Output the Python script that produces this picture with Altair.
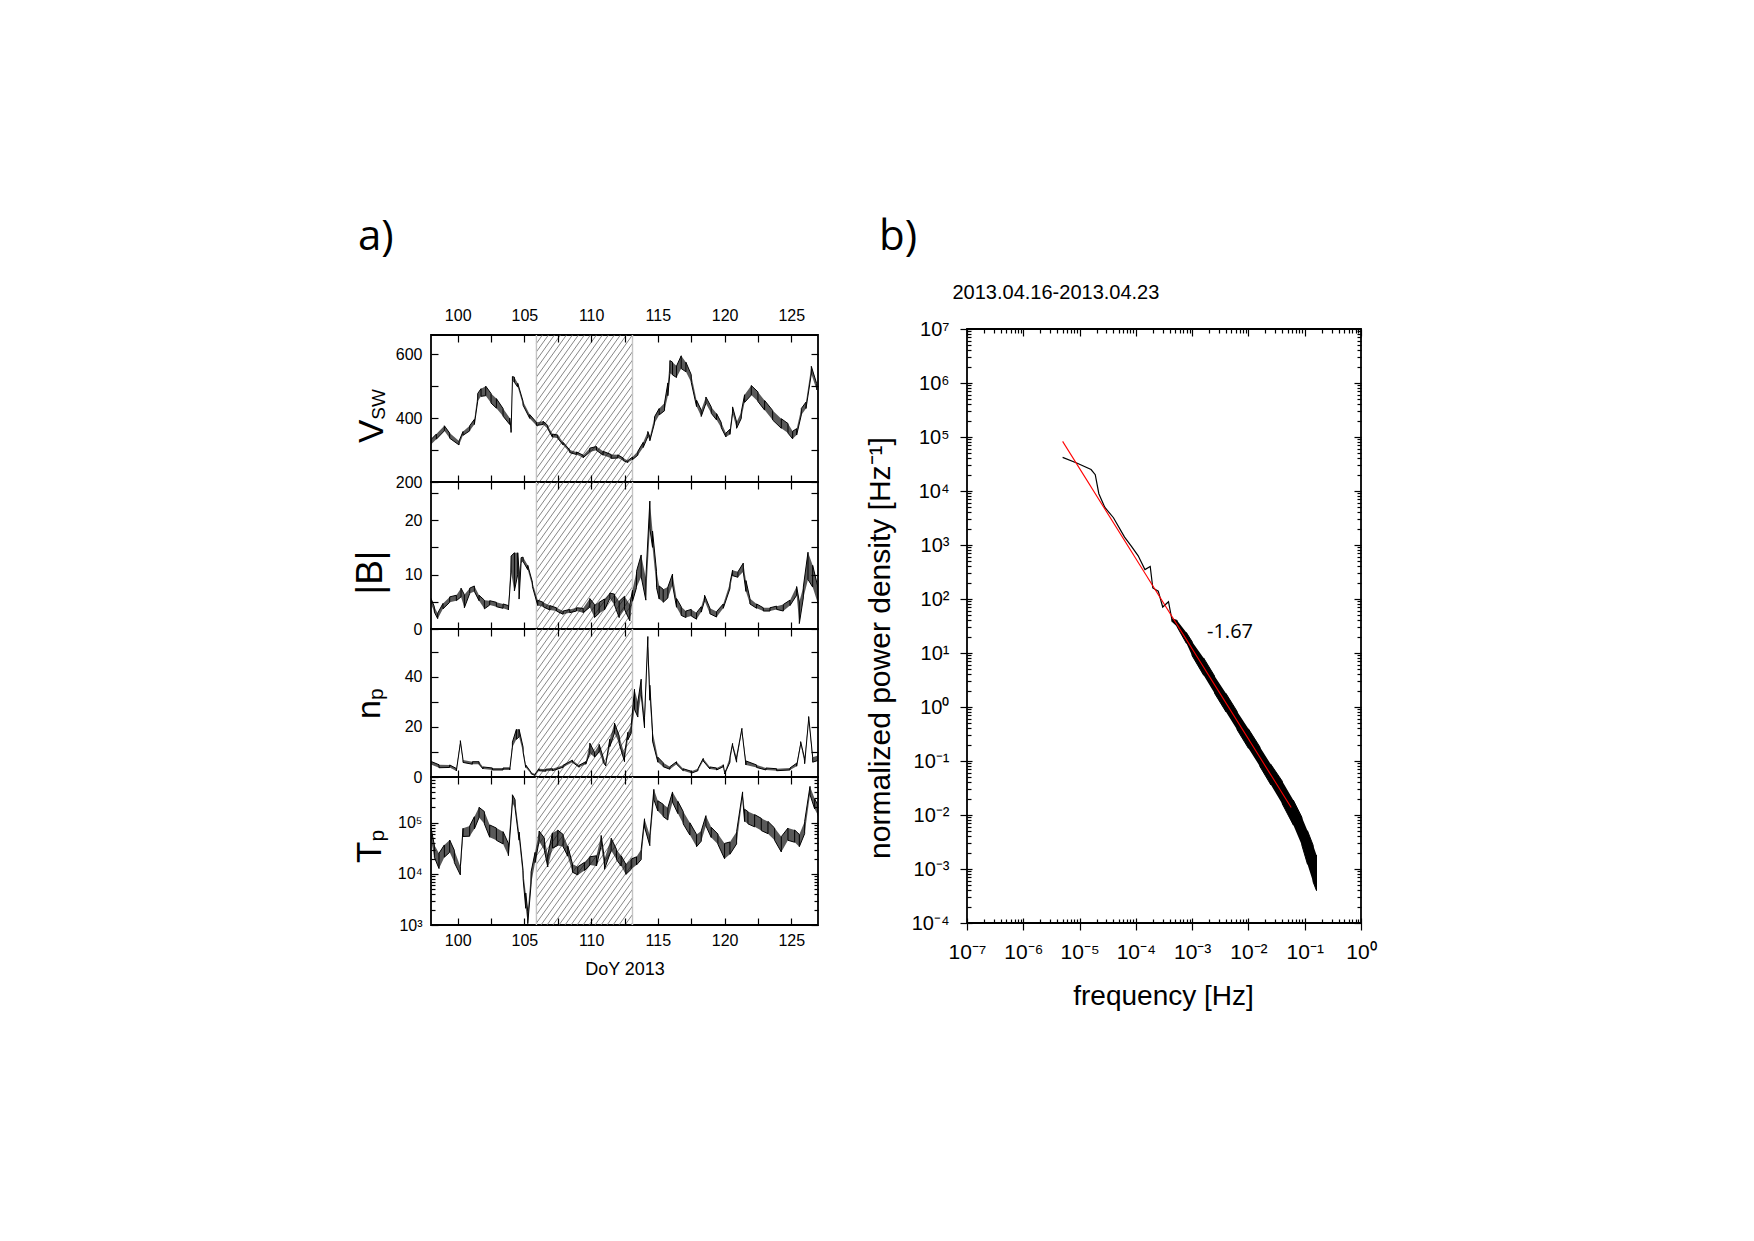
import math
import altair as alt
import pandas as pd

# ---------------- panel a data (DoY 2013) ----------------
DAY_RANGE = [98, 127]
SHADE_DAYS = [105.9, 113.1]
X_TICKS = [100, 102.5, 105, 107.5, 110, 112.5, 115, 117.5, 120, 122.5, 125]

V_DAY = [98.0, 98.4, 99.0, 99.4, 100.1, 100.4, 100.9, 101.25, 101.5, 101.75, 102.1, 102.5, 102.9, 103.4, 103.9, 104.0, 104.1, 104.25, 104.5, 104.9, 105.4, 105.9, 106.4, 106.75, 107.1, 107.5, 107.9, 108.4, 108.9, 109.4, 109.9, 110.4, 110.9, 111.5, 112.0, 112.4, 112.75, 113.1, 113.5, 113.9, 114.25, 114.4, 114.75, 115.1, 115.5, 115.75, 115.9, 116.1, 116.4, 116.75, 117.1, 117.5, 117.9, 118.25, 118.6, 119.0, 119.4, 119.75, 120.1, 120.4, 120.6, 120.9, 121.25, 121.5, 122.0, 122.5, 123.0, 123.6, 124.25, 124.75, 125.1, 125.4, 125.75, 126.1, 126.5, 126.9]
V_VAL = [325, 342, 368, 345, 322, 352, 368, 388, 465, 480, 485, 462, 446, 418, 390, 360, 522, 520, 503, 446, 405, 382, 385, 372, 345, 342, 320, 296, 290, 280, 300, 305, 290, 280, 280, 271, 264, 274, 290, 316, 350, 335, 394, 420, 435, 490, 560, 555, 545, 575, 560, 524, 446, 415, 456, 425, 404, 378, 347, 357, 425, 378, 409, 461, 487, 467, 440, 409, 383, 368, 347, 357, 420, 440, 550, 498]
V_AMP = [8, 8, 8, 8, 6, 6, 8, 8, 12, 12, 15, 15, 15, 12, 10, 5, 8, 8, 6, 6, 6, 5, 5, 5, 5, 5, 4, 4, 4, 4, 6, 6, 6, 6, 5, 4, 3, 4, 6, 8, 8, 6, 10, 10, 12, 20, 20, 20, 18, 20, 15, 12, 10, 10, 10, 10, 10, 8, 6, 8, 10, 10, 10, 12, 15, 15, 15, 15, 15, 15, 12, 10, 10, 10, 12, 10]

B_DAY = [98.0, 98.25, 98.5, 98.9, 99.4, 99.9, 100.25, 100.5, 100.9, 101.25, 101.6, 102.0, 102.4, 102.9, 103.4, 103.8, 104.0, 104.25, 104.5, 104.6, 104.75, 104.9, 105.25, 105.6, 106.0, 106.4, 106.9, 107.4, 107.9, 108.4, 108.9, 109.4, 109.9, 110.25, 110.6, 111.0, 111.4, 111.75, 112.1, 112.5, 112.9, 113.1, 113.4, 113.75, 114.1, 114.4, 114.6, 114.9, 115.1, 115.4, 115.75, 116.1, 116.4, 116.75, 117.1, 117.5, 117.9, 118.25, 118.5, 118.9, 119.4, 119.9, 120.4, 120.6, 121.0, 121.4, 121.6, 121.9, 122.4, 122.9, 123.4, 123.9, 124.4, 124.9, 125.4, 125.6, 125.9, 126.25, 126.6, 127.0]
B_VAL = [5.1, 3.6, 2.4, 4.2, 5.4, 5.7, 6.7, 5.1, 7.0, 7.4, 5.7, 4.5, 4.8, 4.5, 4.2, 3.9, 11.9, 10.5, 12.0, 8.0, 12.6, 12.8, 11.3, 8.2, 4.8, 4.5, 3.9, 3.6, 3.0, 3.3, 3.6, 3.4, 4.8, 3.3, 3.9, 4.5, 6.1, 5.4, 3.6, 4.8, 3.0, 6.1, 9.1, 11.6, 7.3, 21.0, 16.5, 9.1, 6.7, 6.1, 6.7, 9.1, 4.8, 3.3, 2.7, 3.0, 2.4, 3.6, 5.7, 3.3, 2.7, 4.2, 7.9, 10.3, 10.0, 11.3, 7.9, 5.1, 4.2, 3.6, 3.6, 3.9, 3.9, 4.8, 7.0, 3.0, 6.7, 11.6, 9.7, 6.1]
B_AMP = [0.5, 0.5, 0.5, 0.5, 0.5, 0.5, 0.8, 1.2, 0.5, 0.5, 0.5, 0.8, 0.4, 0.4, 0.4, 0.4, 1.5, 3.5, 2.0, 2.5, 0.5, 0.4, 0.4, 0.4, 0.5, 0.4, 0.4, 0.3, 0.3, 0.3, 0.3, 0.4, 0.8, 1.2, 1.0, 1.0, 0.5, 1.0, 1.5, 1.2, 1.5, 1.0, 1.5, 2.0, 2.0, 2.5, 1.5, 1.5, 1.2, 1.2, 1.0, 1.0, 0.8, 0.8, 0.6, 0.6, 0.6, 0.5, 0.5, 0.5, 0.5, 0.4, 0.5, 0.5, 0.5, 0.8, 1.0, 0.5, 0.4, 0.3, 0.3, 0.3, 0.6, 0.5, 0.8, 2.0, 1.0, 2.5, 2.0, 1.5]

N_DAY = [98.0, 98.6, 99.4, 99.9, 100.2, 100.4, 101.1, 101.6, 101.9, 102.6, 103.4, 103.9, 104.1, 104.4, 104.6, 104.9, 105.1, 105.5, 105.8, 106.1, 106.6, 107.1, 107.9, 108.6, 109.1, 109.6, 109.9, 110.25, 110.6, 110.9, 111.1, 111.4, 111.75, 112.1, 112.5, 112.75, 113.0, 113.25, 113.5, 113.75, 114.0, 114.25, 114.4, 114.6, 115.0, 115.4, 115.9, 116.4, 116.9, 117.5, 118.0, 118.4, 118.9, 119.4, 119.9, 120.0, 120.4, 120.6, 120.9, 121.3, 121.6, 122.4, 123.1, 123.9, 124.9, 125.4, 125.7, 126.0, 126.3, 126.6, 127.0]
N_VAL = [5.6, 4.3, 4.3, 2.9, 14.0, 6.3, 5.6, 5.6, 3.6, 3.2, 3.2, 3.2, 12.9, 17.0, 17.5, 10.9, 4.3, 1.6, 0.9, 2.9, 2.7, 2.9, 4.3, 6.3, 4.3, 5.6, 11.5, 8.9, 11.5, 6.9, 4.9, 13.6, 19.5, 14.9, 7.6, 16.3, 18.9, 31.0, 26.9, 36.0, 21.6, 54.0, 33.6, 16.3, 6.9, 4.9, 3.6, 5.6, 2.9, 1.9, 2.9, 6.9, 3.6, 3.2, 4.5, 1.5, 6.9, 12.9, 6.9, 18.9, 5.6, 4.3, 3.2, 2.9, 3.2, 4.9, 13.6, 6.3, 23.6, 6.9, 7.6]
N_AMP = [0.6, 0.6, 0.5, 0.5, 0.5, 0.5, 0.5, 0.5, 0.4, 0.4, 0.4, 0.4, 1.0, 2.0, 1.5, 1.0, 0.5, 0.3, 0.3, 0.4, 0.4, 0.4, 0.4, 0.4, 0.4, 0.5, 2.0, 1.0, 1.5, 1.0, 0.5, 1.5, 2.0, 1.5, 1.5, 1.5, 1.5, 4.0, 3.0, 3.0, 2.0, 2.0, 3.0, 2.0, 1.0, 0.8, 0.5, 0.5, 0.4, 0.4, 0.4, 0.5, 0.4, 0.4, 0.4, 0.3, 1.0, 0.5, 1.0, 0.5, 0.8, 0.5, 0.4, 0.4, 0.4, 0.6, 0.5, 1.0, 0.5, 1.0, 1.0]

T_DAY = [98.0, 98.25, 98.6, 99.0, 99.4, 99.75, 100.2, 100.4, 100.9, 101.25, 101.6, 102.0, 102.4, 102.9, 103.4, 103.8, 104.1, 104.3, 104.6, 104.9, 105.1, 105.25, 105.5, 105.8, 106.1, 106.5, 106.75, 107.1, 107.5, 107.9, 108.25, 108.6, 109.0, 109.5, 109.9, 110.4, 110.75, 111.0, 111.5, 111.9, 112.25, 112.6, 113.0, 113.4, 113.75, 114.0, 114.4, 114.7, 115.0, 115.4, 115.75, 116.1, 116.5, 116.9, 117.4, 117.9, 118.25, 118.6, 119.0, 119.5, 120.0, 120.4, 120.9, 121.35, 121.5, 121.75, 122.25, 122.75, 123.25, 123.75, 124.25, 124.75, 125.25, 125.6, 126.0, 126.4, 126.75, 127.0]
T_VAL = [6.0e4, 2.8e4, 1.8e4, 2.8e4, 3.5e4, 2.2e4, 1.15e4, 6.5e4, 6.9e4, 1.0e5, 1.6e5, 1.26e5, 6.9e4, 6.0e4, 5.1e4, 3.0e4, 2.95e5, 2.35e5, 5.5e4, 9.8e3, 3.0e3, 1.4e3, 8.3e3, 2.1e4, 5.5e4, 3.8e4, 1.8e4, 4.5e4, 5.1e4, 4.5e4, 2.8e4, 1.3e4, 1.15e4, 1.4e4, 1.8e4, 1.8e4, 4.5e4, 1.55e4, 3.8e4, 2.4e4, 1.8e4, 1.23e4, 1.55e4, 1.8e4, 2.4e4, 1.0e5, 4.5e4, 3.6e5, 2.15e5, 1.75e5, 1.5e5, 3.2e5, 2.0e5, 1.26e5, 7.6e4, 4.5e4, 5.5e4, 1.1e5, 6.5e4, 4.8e4, 2.8e4, 3.2e4, 5.1e4, 3.6e5, 1.4e5, 1.26e5, 1.1e5, 9.3e4, 8.1e4, 6.0e4, 3.8e4, 6.0e4, 5.5e4, 4.5e4, 8.1e4, 4.3e5, 2.35e5, 1.75e5]
T_AMP_DEX = [0.12, 0.12, 0.15, 0.12, 0.12, 0.12, 0.08, 0.08, 0.1, 0.12, 0.1, 0.12, 0.12, 0.12, 0.12, 0.12, 0.08, 0.08, 0.08, 0.08, 0.15, 0.12, 0.12, 0.1, 0.1, 0.12, 0.12, 0.15, 0.15, 0.12, 0.1, 0.08, 0.08, 0.08, 0.08, 0.1, 0.1, 0.1, 0.12, 0.1, 0.1, 0.1, 0.1, 0.08, 0.1, 0.08, 0.1, 0.1, 0.1, 0.12, 0.12, 0.1, 0.12, 0.12, 0.12, 0.12, 0.1, 0.1, 0.1, 0.1, 0.15, 0.12, 0.12, 0.05, 0.12, 0.12, 0.12, 0.12, 0.12, 0.12, 0.15, 0.12, 0.12, 0.12, 0.12, 0.08, 0.1, 0.1]

V_DOMAIN = [200, 660]
B_DOMAIN = [0, 27]
N_DOMAIN = [0, 59]
T_DOMAIN = [1e3, 7.9e5]

# ---------------- panel b data (spectrum) ----------------
SPEC_F = [5.0e-6, 8.9e-6, 1.6e-5, 1.9e-5, 2.2e-5, 2.8e-5, 4.0e-5, 6.3e-5, 8.3e-5, 1.1e-4, 1.45e-4, 1.8e-4, 2.0e-4, 2.5e-4, 3.0e-4, 3.8e-4, 4.4e-4, 5.4e-4, 7.1e-4]
SPEC_P = [4.2e4, 3.3e4, 2.5e4, 2.0e4, 8.9e3, 5.0e3, 3.2e3, 1.4e3, 9.5e2, 6.3e2, 3.5e2, 4.0e2, 1.6e2, 1.4e2, 71, 89, 40, 35, 22]
BAND_F = [4.4e-4, 5.4e-4, 7.9e-4, 1.0e-3, 1.6e-3, 2.5e-3, 4.0e-3, 6.3e-3, 1.0e-2, 1.6e-2, 2.5e-2, 4.0e-2, 6.3e-2, 8.9e-2, 0.112, 0.141, 0.162]
BAND_P = [40, 35, 19, 12, 5.6, 2.6, 1.2, 0.56, 0.26, 0.12, 0.056, 0.026, 0.011, 5.0e-3, 2.5e-3, 1.26e-3, 8.5e-4]
BAND_HW_DEX = [0.03, 0.06, 0.1, 0.13, 0.16, 0.16, 0.17, 0.17, 0.18, 0.18, 0.19, 0.21, 0.23, 0.26, 0.31, 0.34, 0.33]
FIT_F = [5.0e-6, 5.75e-2]
FIT_P = [8.3e4, 1.38e-2]
FIT_LABEL = "-1.67"
PERIOD_LABEL = "2013.04.16-2013.04.23"

# ---------------- geometry / style ----------------
W_A = 387
PANEL_H = [147, 147, 148, 148]
SPACER_H = 6
W_B, H_B = 394, 594
LEFT_X, TOP_Y = 429, 327          # page position of left column / spacer origin
RIGHT_PAD = 5                     # right-bound anchor of left column
B_LEFT = 120                      # left-bound anchor of right panel
GAP = 146
FONT = "Liberation Sans"
FONT2 = "Open Sans"
HATCH_STEP = 6.0
HATCH_SLOPE = 1.4
TOTAL_H = sum(PANEL_H)

SUP = {'-': '\u207b', '0': '\u2070', '1': '\u00b9', '2': '\u00b2', '3': '\u00b3', '4': '\u2074',
       '5': '\u2075', '6': '\u2076', '7': '\u2077', '8': '\u2078', '9': '\u2079'}


def sup10(e):
    return '10' + ''.join(SUP[c] for c in str(e))


def pow_expr(exps):
    s = ''
    for e in exps:
        s += f"round(log(datum.value)/LN10) == {e} ? '{sup10(e)}' : "
    return s + "''"


def decades(a, b):
    return [10.0 ** e for e in range(a, b + 1)]


def minors(a, b, top=None):
    out = []
    for e in range(a, b + 1):
        for m in range(2, 10):
            v = m * 10.0 ** e
            if top is None or v <= top:
                out.append(v)
    return out


def envelope(days, vals, amps, log=False):
    lo, hi = [], []
    for v, a in zip(vals, amps):
        if log:
            lo.append(v / 10 ** a)
            hi.append(v * 10 ** a)
        else:
            lo.append(v - a)
            hi.append(v + a)
    return lo, hi


def zigzag(days, lo, hi):
    rows = []
    seq = 0
    for i, (d, l, h) in enumerate(zip(days, lo, hi)):
        pair = (l, h) if i % 2 == 0 else (h, l)
        for y in pair:
            rows.append({'day': d, 'val': y, 'seq': seq})
            seq += 1
    return pd.DataFrame(rows)


def hatch_df(top, h, dom, log):
    span = DAY_RANGE[1] - DAY_RANGE[0]
    xa = (SHADE_DAYS[0] - DAY_RANGE[0]) / span * W_A
    xb = (SHADE_DAYS[1] - DAY_RANGE[0]) / span * W_A

    def to_day(px):
        return DAY_RANGE[0] + px / W_A * span

    def to_val(py):
        f = 1 - (py - top) / h
        if log:
            l0, l1 = math.log10(dom[0]), math.log10(dom[1])
            return 10 ** (l0 + f * (l1 - l0))
        return dom[0] + f * (dom[1] - dom[0])

    rows = []
    k = xa
    while k < xb + TOTAL_H / HATCH_SLOPE + HATCH_STEP:
        ylo = max(top, (k - xb) * HATCH_SLOPE)
        yhi = min(top + h, (k - xa) * HATCH_SLOPE)
        if yhi > ylo:
            rows.append({'x0': to_day(k - ylo / HATCH_SLOPE), 'y0': to_val(ylo),
                         'x1': to_day(k - yhi / HATCH_SLOPE), 'y1': to_val(yhi)})
        k += HATCH_STEP
    return pd.DataFrame(rows)


def axis(orient, values, size, offset, labels=False, expr=None, pad=0, fs=16, baseline=None):
    kw = dict(orient=orient, values=values, tickSize=size, offset=offset, domain=False, grid=False,
              labels=labels, title=None, tickColor='black', tickWidth=1.2, zindex=1)
    if labels:
        kw.update(labelFontSize=fs, labelPadding=pad, labelFont=FONT, labelColor='black',
                  labelFlush=False, labelOverlap=False)
        if expr is not None:
            kw['labelExpr'] = expr
        if baseline is not None:
            kw['labelBaseline'] = baseline
    return alt.Axis(**kw)


def carrier(xs, ys, xdom, ydom, xaxis, yaxis):
    df = pd.DataFrame({'cx': xdom, 'cy': ydom})
    return alt.Chart(df).mark_point(opacity=0, size=1).encode(
        x=alt.X('cx:Q', scale=xs, axis=xaxis),
        y=alt.Y('cy:Q', scale=ys, axis=yaxis))


def txt(s, x, y, size, font=FONT, angle=0, align='left', baseline='alphabetic', color='black'):
    kw = dict(align=align, baseline=baseline, fontSize=size, font=font, color=color)
    if angle:
        kw['angle'] = angle
    return alt.Chart(pd.DataFrame({'t': [s]})).mark_text(**kw).encode(
        x=alt.value(x), y=alt.value(y), text='t:N')


def anchor(x, y):
    # invisible (white) 1px mark that fixes the bounding box of a view
    return alt.Chart(pd.DataFrame({'a': [0]})).mark_rule(color='white', strokeWidth=1).encode(
        x=alt.value(x), x2=alt.value(x), y=alt.value(y), y2=alt.value(y + 1))


XLAB = "datum.value % 5 == 0 ? datum.label : ''"


def left_panel(idx, days, vals, amps, dom, log, yvals, yexpr, yminor=None,
               top_labels=False, bottom_labels=False, extra=()):
    h = PANEL_H[idx]
    top = sum(PANEL_H[:idx])
    xs = alt.Scale(domain=DAY_RANGE, nice=False, zero=False)
    if log:
        ys = alt.Scale(type='log', domain=dom, nice=False)
    else:
        ys = alt.Scale(domain=dom, nice=False, zero=False)
    lo, hi = envelope(days, vals, amps, log)
    env = pd.DataFrame({'day': days, 'lo': lo, 'hi': hi})
    zz = zigzag(days, lo, hi)
    hd = hatch_df(top, h, dom, log)
    layers = [
        alt.Chart(hd).mark_rule(color='#707070', strokeWidth=0.85).encode(
            x=alt.X('x0:Q', scale=xs, axis=None), x2='x1:Q',
            y=alt.Y('y0:Q', scale=ys, axis=None), y2='y1:Q'),
        alt.Chart(pd.DataFrame({'d': SHADE_DAYS})).mark_rule(color='#c4c4c4', strokeWidth=1.4).encode(
            x=alt.X('d:Q', scale=xs, axis=None)),
        alt.Chart(env).mark_area(color='black', opacity=0.65, clip=True).encode(
            x=alt.X('day:Q', scale=xs, axis=None),
            y=alt.Y('lo:Q', scale=ys, axis=None), y2='hi:Q'),
        alt.Chart(zz).mark_line(color='black', strokeWidth=1.0, clip=True).encode(
            x=alt.X('day:Q', scale=xs, axis=None),
            y=alt.Y('val:Q', scale=ys, axis=None),
            order='seq:Q'),
    ]
    xb = axis('bottom', X_TICKS, 7, -7, labels=bottom_labels, expr=XLAB, pad=7)
    xt = axis('top', X_TICKS, 7, -7, labels=top_labels, expr=XLAB, pad=12)
    yl = axis('left', yvals, 7, -7, labels=True, expr=yexpr, pad=9)
    yr = axis('right', yvals, 7, -7)
    layers.append(carrier(xs, ys, DAY_RANGE, dom, xb, yl))
    layers.append(carrier(xs, ys, DAY_RANGE, dom, xt, yr))
    if yminor:
        layers.append(carrier(xs, ys, DAY_RANGE, dom, None, axis('left', yminor, 4, -4)))
        layers.append(carrier(xs, ys, DAY_RANGE, dom, None, axis('right', yminor, 4, -4)))
    layers += list(extra)
    return alt.layer(*layers).resolve_axis(x='independent', y='independent').properties(
        width=W_A, height=h)


TITLE_FS = 34
SUB_FS = 19

pV = left_panel(0, V_DAY, V_VAL, V_AMP, V_DOMAIN, False, [200, 300, 400, 500, 600],
                "datum.value % 200 == 0 ? datum.label : ''", top_labels=True,
                extra=[txt('a)', -73, -85.5, 42, font=FONT2),
                       txt('V', -48, 108, 35, angle=270),
                       txt('SW', -46, 108 - 0.667 * 35, SUB_FS, angle=270)])
pB = left_panel(1, B_DAY, B_VAL, B_AMP, B_DOMAIN, False, [0, 5, 10, 15, 20, 25],
                "datum.value % 10 == 0 ? datum.label : ''",
                extra=[txt('|B|', -49, 90.5, 37, angle=270, align='center')])
pN = left_panel(2, N_DAY, N_VAL, N_AMP, N_DOMAIN, False, [0, 10, 20, 30, 40, 50],
                "datum.value % 20 == 0 ? datum.label : ''",
                extra=[txt('n', -51, 90, TITLE_FS, angle=270),
                       txt('p', -48, 90 - 0.556 * TITLE_FS, SUB_FS + 2, angle=270)])
pT = left_panel(3, T_DAY, T_VAL, T_AMP_DEX, T_DOMAIN, True, decades(3, 5), pow_expr([3, 4, 5]),
                yminor=minors(3, 5, top=T_DOMAIN[1]), bottom_labels=True,
                extra=[txt('T', -50, 86, 35, angle=270),
                       txt('p', -47, 86 - 0.611 * 35, SUB_FS + 2, angle=270),
                       txt('DoY 2013', 194, 197.5, 18, align='center')])

spacer = alt.layer(
    anchor(-LEFT_X, -TOP_Y),
    anchor(W_A + RIGHT_PAD, 0),
).properties(width=W_A, height=SPACER_H, view=alt.ViewBackground(stroke='transparent'))

left_col = alt.vconcat(spacer, pV, pB, pN, pT, spacing=0, bounds='flush')

# ---------------- panel b ----------------
fxs = alt.Scale(type='log', domain=[1e-7, 1], nice=False)
fys = alt.Scale(type='log', domain=[1e-4, 1e7], nice=False)
line_df = pd.DataFrame({'f': SPEC_F + BAND_F[2:], 'p': SPEC_P + BAND_P[2:]})
band_lo = [p / 10 ** w for p, w in zip(BAND_P, BAND_HW_DEX)]
band_hi = [p * 10 ** w for p, w in zip(BAND_P, BAND_HW_DEX)]
band_df = pd.DataFrame({'f': BAND_F, 'lo': band_lo, 'hi': band_hi})
band_zz = zigzag(BAND_F, band_lo, band_hi).rename(columns={'day': 'f'})
fit_df = pd.DataFrame({'f': FIT_F, 'p': FIT_P})

XD = decades(-7, 0)
YD = decades(-4, 7)
XM = minors(-7, -1)
YM = minors(-4, 6)

right_layers = [
    anchor(-B_LEFT, -TOP_Y),
    alt.Chart(band_df).mark_area(color='black', opacity=1).encode(
        x=alt.X('f:Q', scale=fxs, axis=None), y=alt.Y('lo:Q', scale=fys, axis=None), y2='hi:Q'),
    alt.Chart(band_zz).mark_line(color='black', strokeWidth=1.0).encode(
        x=alt.X('f:Q', scale=fxs, axis=None), y=alt.Y('val:Q', scale=fys, axis=None),
        order='seq:Q'),
    alt.Chart(line_df).mark_line(color='black', strokeWidth=1.2).encode(
        x=alt.X('f:Q', scale=fxs, axis=None), y=alt.Y('p:Q', scale=fys, axis=None)),
    alt.Chart(fit_df).mark_line(color='#ff0000', strokeWidth=1.1).encode(
        x=alt.X('f:Q', scale=fxs, axis=None), y=alt.Y('p:Q', scale=fys, axis=None)),
    carrier(fxs, fys, [1e-7, 1], [1e-4, 1e7],
            axis('bottom', XD, 12, -5, labels=True, expr=pow_expr(range(-7, 1)), pad=28, fs=21,
                 baseline='alphabetic'),
            axis('left', YD, 12, -5, labels=True, expr=pow_expr(range(-4, 8)), pad=11, fs=20,
                 baseline='middle')),
    carrier(fxs, fys, [1e-7, 1], [1e-4, 1e7], axis('bottom', XM, 4, -4), axis('left', YM, 4, -4)),
    carrier(fxs, fys, [1e-7, 1], [1e-4, 1e7], axis('top', XD, 7, -7), axis('right', YD, 7, -7)),
    carrier(fxs, fys, [1e-7, 1], [1e-4, 1e7], axis('top', XM, 4, -4), axis('right', YM, 4, -4)),
    txt(PERIOD_LABEL, -14.5, -30.5, 20),
    txt('b)', -88, -79.5, 42, font=FONT2),
    txt(FIT_LABEL, 240, 309, 20, font=FONT2),
    txt('frequency [Hz]', 196.5, 676, 28, align='center'),
    txt('normalized power density [Hz\u207b\u00b9]', -77.5, 319, 30, angle=270, align='center'),
]
right = alt.layer(*right_layers).resolve_axis(x='independent', y='independent').properties(
    width=W_B, height=H_B)

# with "full" bounds the anchors define both columns' boxes exactly
H_SPACING = GAP - (RIGHT_PAD + 0.5) - (B_LEFT + 0.5)

chart = alt.hconcat(left_col, right, spacing=H_SPACING).properties(
    padding=0, background='white'
).configure_view(stroke='black', strokeWidth=1.8)

chart.save("out.html", embed_options={"renderer": "svg", "actions": False})
